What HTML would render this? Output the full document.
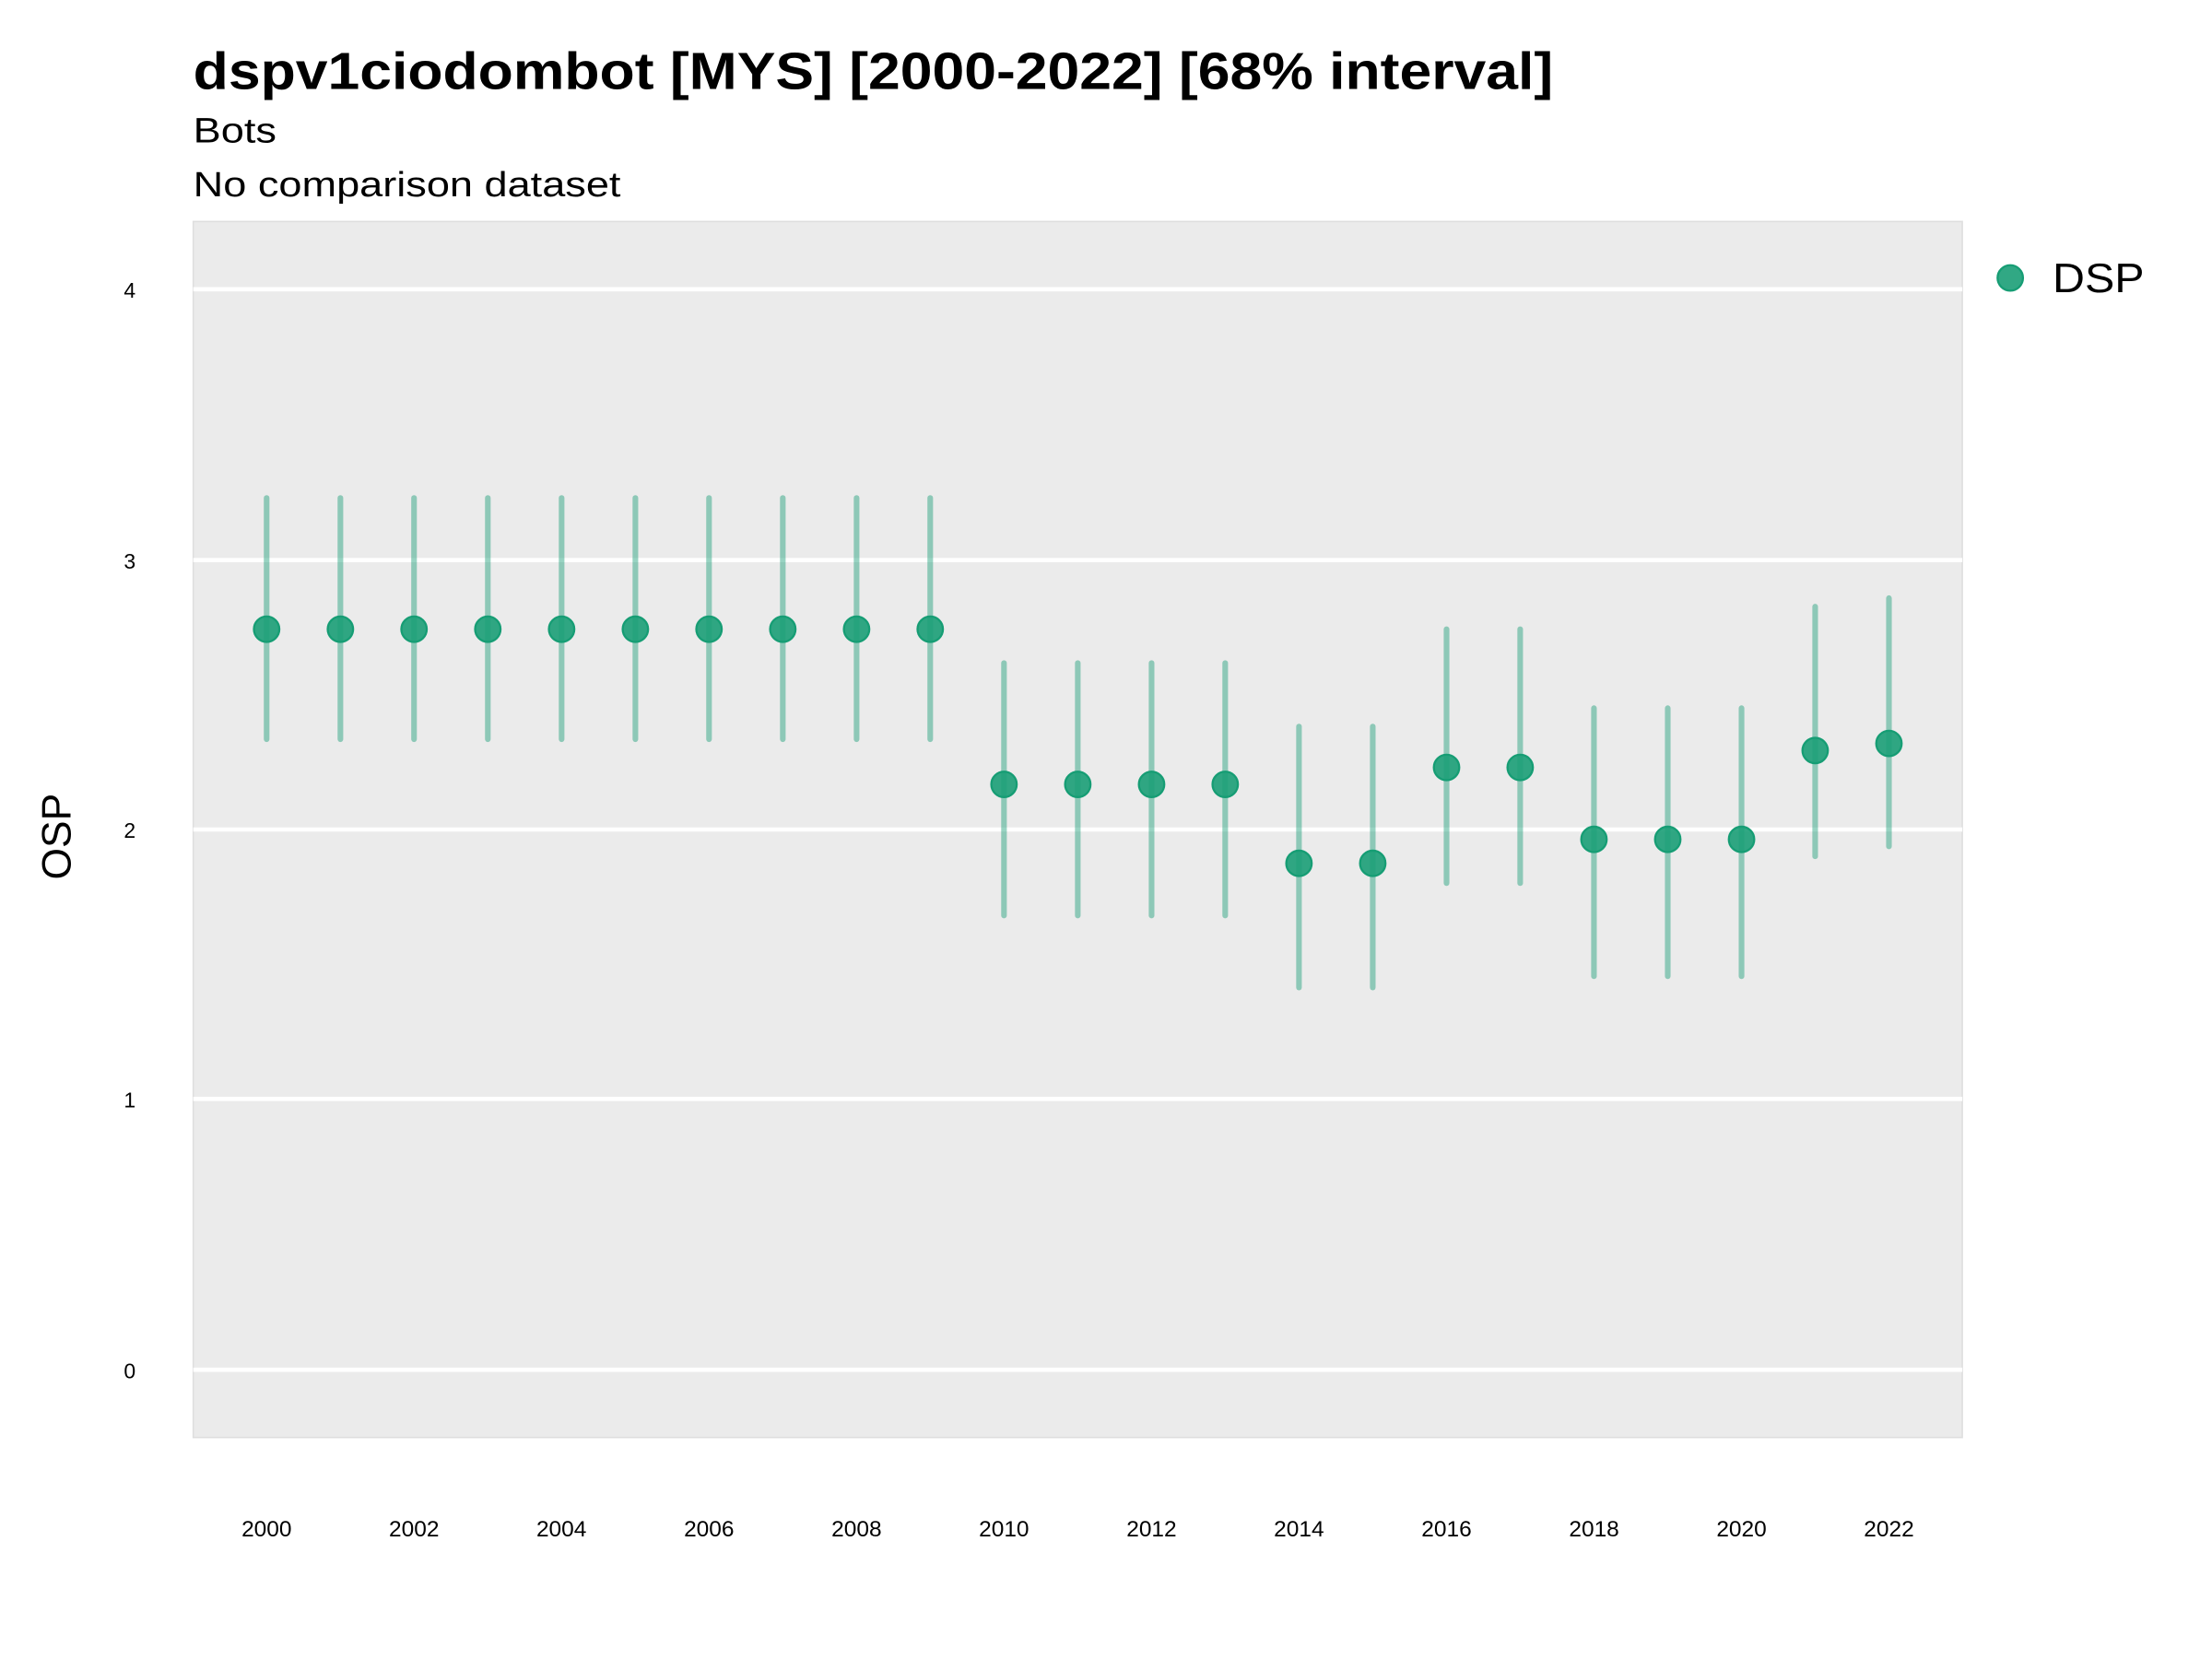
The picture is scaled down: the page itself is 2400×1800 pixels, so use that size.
<!DOCTYPE html>
<html><head><meta charset="utf-8"><style>html,body{margin:0;padding:0;background:#fff}svg{display:block}</style></head>
<body>
<svg width="2400" height="1800" viewBox="0 0 1568 1176" xmlns="http://www.w3.org/2000/svg" font-family="Liberation Sans, sans-serif">
<rect width="1568" height="1176" fill="#fff"/>
<text x="137" y="63" font-size="37" font-weight="bold" textLength="964" lengthAdjust="spacingAndGlyphs">dspv1ciodombot [MYS] [2000-2022] [68% interval]</text>
<text x="137" y="101" font-size="25" textLength="59" lengthAdjust="spacingAndGlyphs">Bots</text>
<text x="137" y="139" font-size="25" textLength="303" lengthAdjust="spacingAndGlyphs">No comparison dataset</text>
<rect x="137" y="157" width="1254" height="862" fill="#ebebeb" stroke="#dedede" stroke-width="1"/>
<g stroke="#fff" stroke-width="3">
<line x1="137" x2="1391" y1="205" y2="205"/>
<line x1="137" x2="1391" y1="397" y2="397"/>
<line x1="137" x2="1391" y1="588" y2="588"/>
<line x1="137" x2="1391" y1="779" y2="779"/>
<line x1="137" x2="1391" y1="971" y2="971"/>
</g>
<g font-size="15" text-anchor="middle">
<text x="92" y="211">4</text><text x="92" y="403">3</text><text x="92" y="594">2</text><text x="92" y="785">1</text><text x="92" y="977">0</text>
</g>
<text transform="translate(50,593) rotate(-90)" font-size="29" text-anchor="middle">OSP</text>
<g font-size="16" text-anchor="middle">
<text x="189" y="1089">2000</text><text x="293.5" y="1089">2002</text><text x="398" y="1089">2004</text><text x="502.6" y="1089">2006</text><text x="607.2" y="1089">2008</text><text x="711.7" y="1089">2010</text><text x="816.3" y="1089">2012</text><text x="920.8" y="1089">2014</text><text x="1025.4" y="1089">2016</text><text x="1130" y="1089">2018</text><text x="1234.5" y="1089">2020</text><text x="1339" y="1089">2022</text>
</g>
<g stroke="#1b9e77" stroke-opacity="0.45" stroke-width="4" stroke-linecap="round">
<line x1="189" x2="189" y1="353" y2="524"/>
<line x1="241.3" x2="241.3" y1="353" y2="524"/>
<line x1="293.5" x2="293.5" y1="353" y2="524"/>
<line x1="345.8" x2="345.8" y1="353" y2="524"/>
<line x1="398.1" x2="398.1" y1="353" y2="524"/>
<line x1="450.4" x2="450.4" y1="353" y2="524"/>
<line x1="502.6" x2="502.6" y1="353" y2="524"/>
<line x1="554.9" x2="554.9" y1="353" y2="524"/>
<line x1="607.2" x2="607.2" y1="353" y2="524"/>
<line x1="659.4" x2="659.4" y1="353" y2="524"/>
<line x1="711.7" x2="711.7" y1="470" y2="649"/>
<line x1="764" x2="764" y1="470" y2="649"/>
<line x1="816.3" x2="816.3" y1="470" y2="649"/>
<line x1="868.5" x2="868.5" y1="470" y2="649"/>
<line x1="920.8" x2="920.8" y1="515" y2="700"/>
<line x1="973.1" x2="973.1" y1="515" y2="700"/>
<line x1="1025.4" x2="1025.4" y1="446" y2="626"/>
<line x1="1077.6" x2="1077.6" y1="446" y2="626"/>
<line x1="1129.9" x2="1129.9" y1="502" y2="692"/>
<line x1="1182.2" x2="1182.2" y1="502" y2="692"/>
<line x1="1234.5" x2="1234.5" y1="502" y2="692"/>
<line x1="1286.7" x2="1286.7" y1="430" y2="607"/>
<line x1="1339" x2="1339" y1="424" y2="600"/>
</g>
<g fill="#1b9e77" fill-opacity="0.9" stroke="#169d74" stroke-width="1.5">
<circle cx="189" cy="446" r="9"/>
<circle cx="241.3" cy="446" r="9"/>
<circle cx="293.5" cy="446" r="9"/>
<circle cx="345.8" cy="446" r="9"/>
<circle cx="398.1" cy="446" r="9"/>
<circle cx="450.4" cy="446" r="9"/>
<circle cx="502.6" cy="446" r="9"/>
<circle cx="554.9" cy="446" r="9"/>
<circle cx="607.2" cy="446" r="9"/>
<circle cx="659.4" cy="446" r="9"/>
<circle cx="711.7" cy="556" r="9"/>
<circle cx="764" cy="556" r="9"/>
<circle cx="816.3" cy="556" r="9"/>
<circle cx="868.5" cy="556" r="9"/>
<circle cx="920.8" cy="612" r="9"/>
<circle cx="973.1" cy="612" r="9"/>
<circle cx="1025.4" cy="544" r="9"/>
<circle cx="1077.6" cy="544" r="9"/>
<circle cx="1129.9" cy="595" r="9"/>
<circle cx="1182.2" cy="595" r="9"/>
<circle cx="1234.5" cy="595" r="9"/>
<circle cx="1286.7" cy="532" r="9"/>
<circle cx="1339" cy="527" r="9"/>
<circle cx="1425" cy="197" r="9"/>
</g>
<text x="1455" y="207" font-size="29" textLength="65" lengthAdjust="spacingAndGlyphs">DSP</text>
</svg>
</body></html>
